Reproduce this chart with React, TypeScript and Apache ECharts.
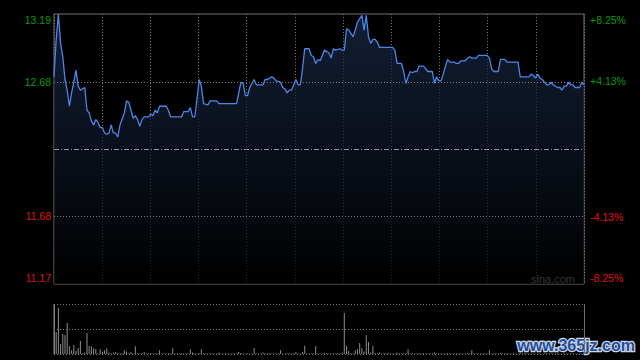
import React, { useEffect, useRef } from "react";
import * as echarts from "echarts";

// Minute index (0..241) of each vertex of the price line, and its price
const priceMinutes = [
  0, 1, 2, 3, 4, 5, 6, 7, 8, 9, 10, 11, 12, 13, 14, 15, 16, 17, 18, 19, 20,
  21, 22, 23, 24, 25, 26, 27, 28, 29, 30, 32, 33, 34, 36, 37, 38, 39, 40, 41,
  43, 44, 45, 46, 47, 48, 51, 52, 53, 58, 59, 61, 62, 63, 64, 65, 66, 67, 68,
  70, 71, 74, 75, 83, 84, 85, 86, 87, 88, 89, 90, 91, 92, 95, 96, 97, 99, 100,
  101, 103, 104, 105, 106, 107, 108, 110, 111, 112, 113, 114, 116, 117, 118,
  119, 120, 121, 122, 123, 125, 126, 127, 128, 130, 131, 132, 133, 134, 136,
  137, 138, 140, 141, 142, 143, 144, 145, 146, 147, 148, 154, 155, 156, 158,
  159, 160, 161, 162, 163, 164, 165, 166, 168, 169, 170, 172, 173, 174, 175,
  176, 177, 178, 179, 180, 182, 183, 184, 185, 187, 188, 189, 190, 192, 193,
  197, 198, 199, 200, 202, 203, 205, 206, 211, 212, 216, 217, 218, 219, 220,
  221, 222, 223, 224, 225, 226, 227, 229, 230, 231, 232, 233, 234, 235, 236,
  237, 238, 239, 240, 241,
];
const prices = [
  12.72, 13.0, 13.19, 12.97, 12.87, 12.7, 12.62, 12.5, 12.6, 12.68, 12.77,
  12.65, 12.62, 12.63, 12.64, 12.47, 12.45, 12.39, 12.36, 12.4, 12.38, 12.34,
  12.34, 12.3, 12.29, 12.3, 12.36, 12.3, 12.3, 12.27, 12.36, 12.45, 12.54,
  12.53, 12.41, 12.43, 12.4, 12.35, 12.4, 12.42, 12.42, 12.44, 12.43, 12.47,
  12.45, 12.5, 12.5, 12.47, 12.42, 12.42, 12.46, 12.46, 12.49, 12.42, 12.42,
  12.55, 12.7, 12.65, 12.52, 12.51, 12.54, 12.54, 12.52, 12.52, 12.6, 12.68,
  12.67, 12.58, 12.58, 12.64, 12.67, 12.7, 12.66, 12.66, 12.7, 12.7, 12.72,
  12.71, 12.69, 12.68, 12.64, 12.63, 12.6, 12.62, 12.62, 12.7, 12.66, 12.66,
  12.78, 12.93, 12.93, 12.88, 12.87, 12.82, 12.85, 12.84, 12.88, 12.92, 12.9,
  12.86, 12.93, 12.92, 12.93, 12.92, 12.92, 13.08, 13.07, 13.02, 13.07, 13.13,
  13.18, 13.07, 13.18, 13.02, 12.97, 13.0, 13.0, 12.98, 12.94, 12.94, 12.92,
  12.82, 12.82, 12.76, 12.67, 12.72, 12.76, 12.75, 12.76, 12.76, 12.8, 12.8,
  12.78, 12.76, 12.76, 12.67, 12.72, 12.69, 12.69, 12.74, 12.8, 12.85, 12.83,
  12.83, 12.82, 12.82, 12.84, 12.84, 12.86, 12.87, 12.86, 12.86, 12.88, 12.88,
  12.86, 12.78, 12.76, 12.76, 12.85, 12.85, 12.83, 12.83, 12.72, 12.72, 12.74,
  12.73, 12.71, 12.74, 12.71, 12.7, 12.68, 12.66, 12.66, 12.68, 12.66, 12.64,
  12.64, 12.62, 12.65, 12.65, 12.68, 12.66, 12.66, 12.64, 12.64, 12.64, 12.68,
  12.66,
];

// Volume per minute (0..241)
const volumes = [
  5000, 2200, 4600, 1000, 2000, 1900, 3100, 800, 370, 900,
  300, 600, 1300, 100, 150, 2100, 770, 770, 570, 500,
  80, 470, 250, 370, 570, 150, 60, 150, 200, 80,
  60, 100, 370, 250, 80, 200, 60, 770, 100, 50,
  80, 200, 60, 50, 100, 60, 80, 50, 370, 60,
  80, 50, 100, 60, 570, 80, 50, 60, 100, 50,
  60, 80, 470, 150, 60, 50, 100, 470, 80, 60,
  50, 60, 80, 50, 60, 150, 50, 60, 80, 50,
  60, 50, 80, 60, 200, 100, 50, 60, 80, 50,
  60, 600, 80, 50, 60, 150, 50, 60, 80, 50,
  60, 50, 80, 370, 60, 50, 80, 60, 50, 80,
  200, 60, 50, 200, 830, 60, 50, 80, 60, 770,
  80, 60, 50, 80, 100, 60, 50, 80, 60, 100,
  80, 150, 4100, 830, 300, 80, 100, 370, 470, 1100,
  570, 250, 1900, 1200, 150, 830, 100, 80, 150, 60,
  80, 50, 100, 60, 80, 50, 150, 60, 80, 50,
  100, 470, 60, 80, 50, 60, 100, 50, 80, 60,
  50, 80, 60, 150, 50, 60, 80, 50, 60, 80,
  50, 60, 80, 50, 60, 80, 50, 60, 100, 80,
  370, 60, 50, 80, 60, 50, 80, 60, 370, 50,
  60, 80, 50, 100, 60, 50, 80, 60, 50, 80,
  60, 50, 150, 60, 80, 50, 60, 80, 50, 60,
  80, 50, 60, 80, 50, 60, 80, 50, 60, 80,
  50, 60, 80, 50, 60, 80, 50, 60, 80, 50,
  60, 100,
];

const prevClose = 12.18;
const priceMin = 11.17;
const priceMax = 13.19;
const pctMin = -8.25;
const pctMax = 8.25;
const leftTicks = [11.17, 11.68, 12.68, 13.19];
const rightTicks = [-8.25, -4.13, 4.13, 8.25];
const gridPrices = [12.68, 11.68];
const volMax = 5000;

const FONT = 'Arial, "Liberation Sans", sans-serif';
const GREEN = "#0b9a0b";
const RED = "#e01010";

function richSet() {
  const base = { fontSize: 10.5, fontFamily: FONT };
  return {
    g: { ...base, color: GREEN },
    gT: { ...base, color: GREEN, padding: [12, 0, 0, 0] },
    r: { ...base, color: RED },
    rB: { ...base, color: RED, padding: [0, 0, 12, 0] },
  };
}

export default function App() {
  const ref = useRef<HTMLDivElement>(null);
  useEffect(() => {
    document.body.style.margin = "0";
    document.body.style.background = "#000";
    const chart = echarts.init(ref.current as HTMLDivElement, null, { renderer: "svg" });
    const near = (a: number, b: number) => Math.abs(a - b) < 1e-6;
    chart.setOption({
      animation: false,
      backgroundColor: "#000",
      grid: [
        { left: 54, top: 14, width: 530, height: 270, show: true, borderColor: "#707070", borderWidth: 1, backgroundColor: "transparent" },
        { left: 54, top: 304, width: 530, height: 50 },
      ],
      xAxis: [
        {
          type: "value", gridIndex: 0, min: 0, max: 241, interval: 241 / 11,
          axisLine: { show: false }, axisTick: { show: false }, axisLabel: { show: false },
          splitLine: { show: true, lineStyle: { color: "#7a7a7a", type: [1, 2], width: 1 } },
        },
        {
          type: "value", gridIndex: 1, min: 0, max: 241, interval: 241,
          axisLine: { show: false }, axisTick: { show: false }, axisLabel: { show: false },
          splitLine: { show: true, lineStyle: { color: "#707070", type: "solid", width: 1 } },
        },
      ],
      yAxis: [
        {
          type: "value", gridIndex: 0, position: "left", min: priceMin, max: priceMax,
          axisLine: { show: false }, axisTick: { show: false }, splitLine: { show: false },
          axisLabel: {
            show: true, margin: 3, customValues: leftTicks,
            formatter: (v: number) => {
              const s = v.toFixed(2);
              if (near(v, priceMax)) return `{gT|${s}}`;
              if (near(v, priceMin)) return `{rB|${s}}`;
              return v > prevClose ? `{g|${s}}` : `{r|${s}}`;
            },
            rich: richSet(),
          },
        },
        {
          type: "value", gridIndex: 0, position: "right", min: pctMin, max: pctMax,
          axisLine: { show: false }, axisTick: { show: false }, splitLine: { show: false },
          axisLabel: {
            show: true, margin: 6, customValues: rightTicks,
            formatter: (v: number) => {
              const s = (v > 0 ? "+" : "") + v.toFixed(2) + "%";
              if (near(v, pctMax)) return `{gT|${s}}`;
              if (near(v, pctMin)) return `{rB|${s}}`;
              return v > 0 ? `{g|${s}}` : `{r|${s}}`;
            },
            rich: richSet(),
          },
        },
        {
          type: "value", gridIndex: 1, min: 0, max: volMax, interval: volMax / 2,
          axisLine: { show: false }, axisTick: { show: false }, axisLabel: { show: false },
          splitLine: { show: true, lineStyle: { color: "#7a7a7a", type: [1, 2], width: 1 } },
        },
      ],
      series: [
        {
          type: "line",
          xAxisIndex: 0, yAxisIndex: 0,
          data: priceMinutes.map((m, i) => [m, prices[i]]),
          showSymbol: false, symbol: "none",
          lineStyle: { color: "#4a86e8", width: 1.3 },
          areaStyle: {
            origin: "start",
            color: new echarts.graphic.LinearGradient(0, 0, 0, 1, [
              { offset: 0, color: "#1b2b4a" },
              { offset: 1, color: "#000000" },
            ]),
          },
          markLine: {
            silent: true, symbol: ["none", "none"], label: { show: false },
            data: [
              ...gridPrices.map((v) => ({ yAxis: v, lineStyle: { color: "#7a7a7a", type: [1, 2], width: 1 } })),
              { yAxis: prevClose, lineStyle: { color: "#8e98a6", type: [5, 2, 1, 2], width: 1 } },
            ],
          },
          z: 3,
        },
        {
          type: "bar",
          xAxisIndex: 1, yAxisIndex: 2,
          data: volumes.map((v, i) => [i, v]),
          barWidth: 1,
          itemStyle: { color: "#8c8c8c" },
          z: 3,
        },
      ],
      graphic: [
        {
          type: "text", left: 531, top: 273,
          style: { text: "sina.com", fill: "#a8a8a8", font: `11px ${FONT}` },
        },
        {
          type: "text", left: 516, top: 336,
          style: {
            text: "www.365jz.com", fill: "#1f4e9c", stroke: "#cdd6e6", lineWidth: 2.5,
            font: 'bold 16px "Liberation Sans", Arial, sans-serif',
          },
        },
      ],
    });
    return () => chart.dispose();
  }, []);
  return <div ref={ref} style={{ width: 640, height: 360, background: "#000" }} />;
}
